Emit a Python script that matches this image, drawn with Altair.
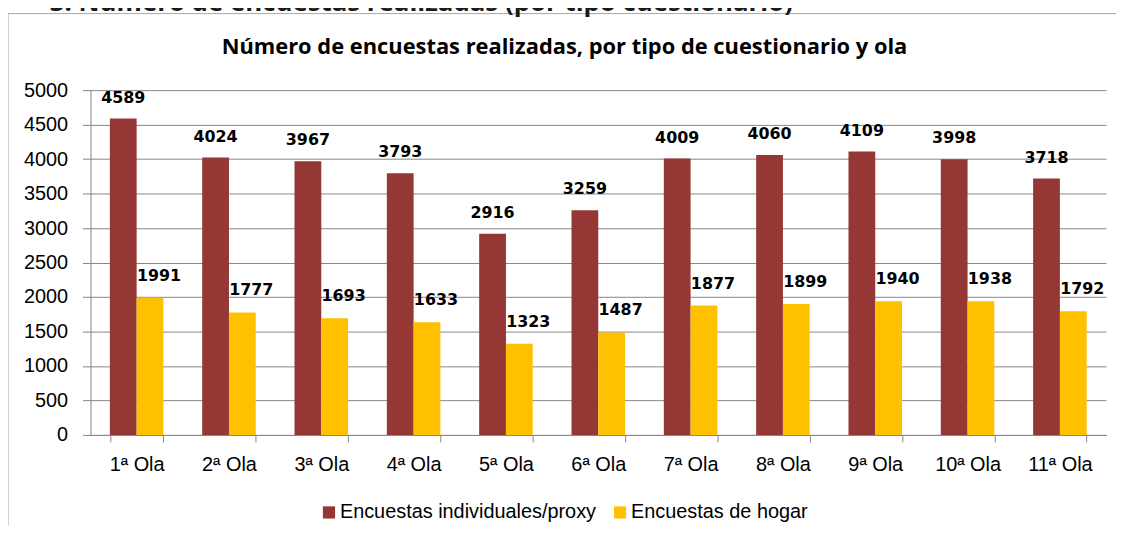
import altair as alt
import pandas as pd

olas = ["1ª Ola", "2ª Ola", "3ª Ola", "4ª Ola", "5ª Ola", "6ª Ola",
        "7ª Ola", "8ª Ola", "9ª Ola", "10ª Ola", "11ª Ola"]
individuales = [4589, 4024, 3967, 3793, 2916, 3259, 4009, 4060, 4109, 3998, 3718]
hogar = [1991, 1777, 1693, 1633, 1323, 1487, 1877, 1899, 1940, 1938, 1792]
series = ["Encuestas individuales/proxy", "Encuestas de hogar"]
colors = ["#953735", "#FFC000"]
y_ticks = [0, 500, 1000, 1500, 2000, 2500, 3000, 3500, 4000, 4500, 5000]

rows = []
for o, a, b in zip(olas, individuales, hogar):
    rows.append({"ola": o, "serie": series[0], "valor": a})
    rows.append({"ola": o, "serie": series[1], "valor": b})
df = pd.DataFrame(rows)

LABEL_FONT = "Liberation Sans"
GRID = "#868686"

x_enc = alt.X("ola:N", sort=olas, title=None,
              scale=alt.Scale(paddingInner=0.42, paddingOuter=0.21),
              axis=alt.Axis(labelAngle=0, labelFont=LABEL_FONT, labelFontSize=20,
                            labelColor="#000000", tickBand="extent", tickSize=7,
                            tickColor=GRID, domainColor=GRID, labelPadding=13,
                            grid=False))
y_enc = alt.Y("valor:Q", title=None,
              scale=alt.Scale(domain=[0, 5000], nice=False),
              axis=alt.Axis(values=y_ticks, format="d",
                            labelOverlap=False, labelFont=LABEL_FONT,
                            labelFontSize=20, labelColor="#000000", tickSize=8,
                            tickColor=GRID, domainColor=GRID, gridColor=GRID,
                            labelPadding=15))
xo = alt.XOffset("serie:N", sort=series, scale=alt.Scale(paddingInner=0, paddingOuter=0))

base = alt.Chart(df)

bars = base.mark_bar().encode(
    x=x_enc, y=y_enc, xOffset=xo,
    color=alt.Color("serie:N", sort=series,
                    scale=alt.Scale(domain=series, range=colors),
                    legend=alt.Legend(title=None, orient="none", direction="horizontal",
                                      legendX=230, legendY=415, symbolType="square",
                                      symbolSize=150, symbolStrokeWidth=0,
                                      labelFont=LABEL_FONT, labelFontSize=20,
                                      labelColor="#000000", labelOffset=1,
                                      labelLimit=0, columnPadding=14)),
)

lab_ind = base.transform_filter(alt.datum.serie == series[0]).mark_text(
    font="DejaVu Sans", fontWeight="bold", fontSize=16, baseline="bottom", dy=-13,
    color="#000000").encode(x=x_enc, xOffset=xo, y=y_enc, text="valor:Q")
lab_hog = base.transform_filter(alt.datum.serie == series[1]).mark_text(
    font="DejaVu Sans", fontWeight="bold", fontSize=16, baseline="bottom", dy=-14, dx=9,
    color="#000000").encode(x=x_enc, xOffset=xo, y=y_enc, text="valor:Q")

one = alt.Chart(pd.DataFrame({"a": [0]}))
title_mark = one.mark_text(font="Open Sans", fontWeight="bold", fontSize=22,
                           align="center", baseline="middle", color="#000000").encode(
    x=alt.value(477), y=alt.value(-43),
    text=alt.value("Número de encuestas realizadas, por tipo de cuestionario y ola"))
heading = one.mark_text(font="Open Sans", fontWeight="bold", fontSize=26,
                        align="left", baseline="alphabetic", color="#1a1a1a").encode(
    x=alt.value(-41), y=alt.value(-80),
    text=alt.value("3. Número de encuestas realizadas (por tipo cuestionario)"))
frame_top = one.mark_rule(color="#a6a6a6", strokeWidth=1).encode(
    x=alt.value(-83), x2=alt.value(1100), y=alt.value(-77))
frame_left = one.mark_rule(color="#a6a6a6", strokeWidth=1).encode(
    x=alt.value(-83), y=alt.value(-77), y2=alt.value(500))

chart = alt.layer(frame_top, frame_left, heading, title_mark, bars, lab_ind, lab_hog).properties(
    width=1022, height=347,
    autosize=alt.AutoSizeParams(type="none"),
    padding={"left": 83, "top": 81, "right": 10, "bottom": 90},
).configure_view(stroke=None).configure_axis(gridWidth=1)

chart.save("out.html", embed_options={"renderer": "svg", "actions": False})
